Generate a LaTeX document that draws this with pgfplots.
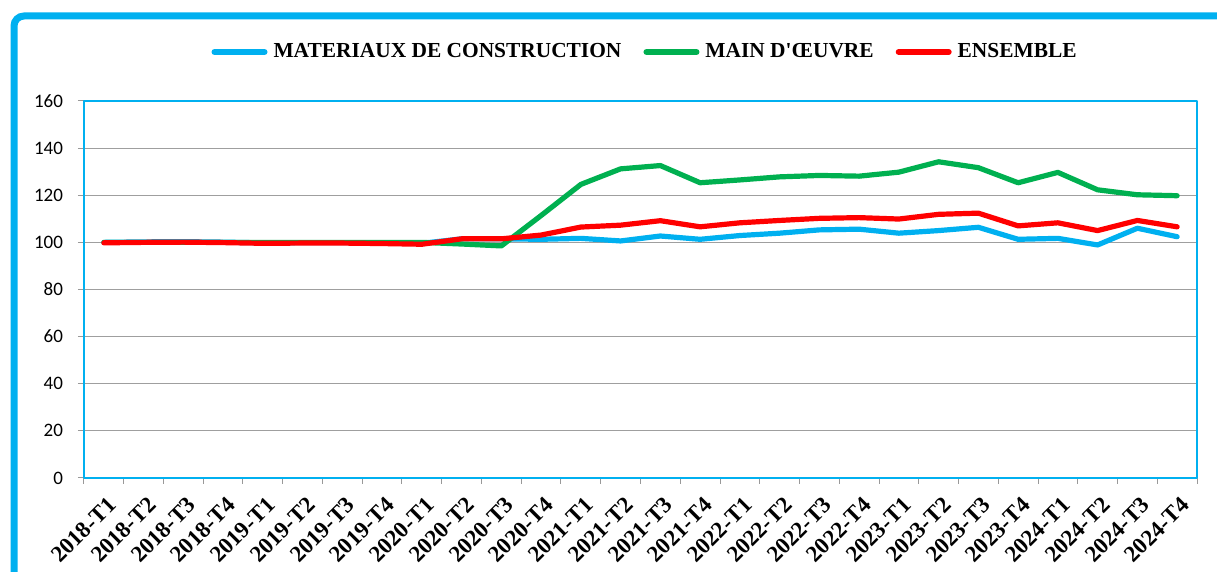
\documentclass[border=0pt]{standalone}
\usepackage{pgfplots}
\pgfplotsset{compat=1.18}
\usepackage{fontspec}
\setmainfont{Liberation Serif}[Ligatures=TeXOff]
\newfontfamily\carlito{Carlito}
\definecolor{cblue}{HTML}{00B0F0}
\definecolor{cgreen}{HTML}{00B050}
\definecolor{cred}{HTML}{FF0000}
\begin{document}
\begin{tikzpicture}
\path[use as bounding box] (0,0) rectangle (608.5pt,286pt);
\draw[cblue, line width=3.5pt, rounded corners=5pt] (7pt,-2pt) -- (7pt,278pt) -- (612pt,278pt);
\begin{axis}[
  at={(42pt,47pt)}, anchor=south west,
  scale only axis, width=556.5pt, height=188.5pt,
  xmin=-0.5, xmax=27.5, ymin=0, ymax=160,
  ytick={0,20,...,160},
  xtick={0,...,27},
  xticklabels={2018-T1,2018-T2,2018-T3,2018-T4,2019-T1,2019-T2,2019-T3,2019-T4,2020-T1,2020-T2,2020-T3,2020-T4,2021-T1,2021-T2,2021-T3,2021-T4,2022-T1,2022-T2,2022-T3,2022-T4,2023-T1,2023-T2,2023-T3,2023-T4,2024-T1,2024-T2,2024-T3,2024-T4},
  minor xtick={-0.5,0.5,...,27.5},
  major x tick style={draw=none},
  tick pos=left,
  tick align=outside,
  major tick length=3pt, minor tick length=3pt,
  tick style={gray!80, line width=0.5pt},
  ymajorgrids, grid style={gray!75, line width=0.6pt},
  axis line style={cblue, line width=1.3pt},
  yticklabel style={font=\carlito\fontsize{9.5}{11}\selectfont, /pgf/number format/assume math mode=true, xshift=-4pt},
  xticklabel style={font=\bfseries\fontsize{11.5}{12}\selectfont, rotate=45, anchor=north east, inner sep=0pt, xshift=-3pt, yshift=-5pt},
  legend columns=3,
  legend style={at={(0.505,1.13)}, anchor=center, draw=none, fill=none,
    font=\bfseries\fontsize{10.7}{12}\selectfont, column sep=9pt,
    /tikz/every odd column/.style={column sep=1pt}},
  legend image code/.code={\draw[#1, line width=3pt, line cap=round] (0pt,0pt) -- (25pt,0pt);},
  line join=round,
]
\addplot[cblue, line width=2.6pt, line cap=round] coordinates {
(0,100) (1,100.2) (2,100.3) (3,100.1) (4,99.8) (5,99.9) (6,99.9) (7,99.8) (8,99.6) (9,101.5) (10,101.5) (11,101.3) (12,101.7) (13,100.6) (14,102.7) (15,101.3) (16,102.9) (17,103.9) (18,105.3) (19,105.6) (20,103.9) (21,105.0) (22,106.4) (23,101.3) (24,101.7) (25,98.9) (26,106.0) (27,102.4)};
\addlegendentry{MATERIAUX DE CONSTRUCTION}
\addplot[cgreen, line width=2.6pt, line cap=round] coordinates {
(0,100) (1,100) (2,100) (3,100) (4,100) (5,100) (6,100) (7,100) (8,100) (9,99.3) (10,98.5) (11,111.4) (12,124.6) (13,131.2) (14,132.6) (15,125.3) (16,126.5) (17,127.8) (18,128.4) (19,128.1) (20,129.8) (21,134.2) (22,131.7) (23,125.3) (24,129.7) (25,122.3) (26,120.2) (27,119.8)};
\addlegendentry{MAIN D'ŒUVRE}
\addplot[cred, line width=2.6pt, line cap=round] coordinates {
(0,99.8) (1,100) (2,100.1) (3,99.9) (4,99.6) (5,99.7) (6,99.7) (7,99.5) (8,99.2) (9,101.5) (10,101.5) (11,103.1) (12,106.5) (13,107.3) (14,109.2) (15,106.6) (16,108.3) (17,109.3) (18,110.2) (19,110.5) (20,109.9) (21,111.9) (22,112.4) (23,107.0) (24,108.3) (25,105.0) (26,109.3) (27,106.6)};
\addlegendentry{ENSEMBLE}
\end{axis}
\end{tikzpicture}
\end{document}
